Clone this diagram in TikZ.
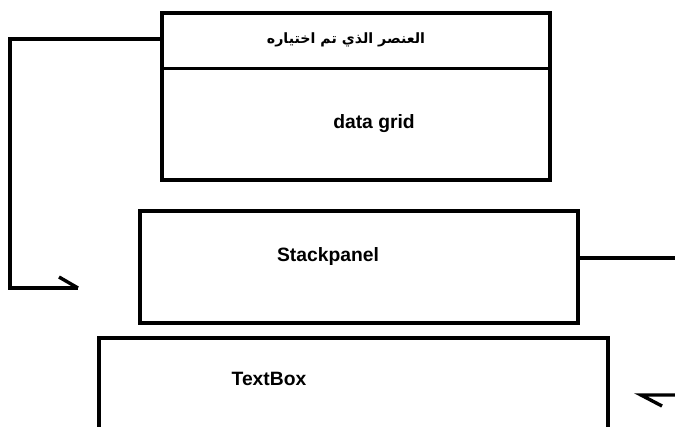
\documentclass[tikz,border=0pt]{standalone}
\usepackage{fontspec}
\setmainfont{Liberation Sans}
\newfontfamily\arabicfont[Script=Arabic]{DejaVu Sans}
\TeXXeTstate=1
\begin{document}
\begin{tikzpicture}[x=1bp,y=-1bp,
  box/.style={draw=black,line width=3.6bp,minimum width=#1,inner sep=0pt},
  conn/.style={draw=black,line width=3.4bp},
  lbl/.style={font=\bfseries\fontsize{19.3bp}{21bp}\selectfont,inner sep=0pt,anchor=base},
  arlbl/.style={font=\arabicfont\bfseries\fontsize{14.2bp}{17bp}\selectfont,inner sep=0pt,anchor=base}]
\clip (0,0) rectangle (675,426);
\fill[white] (0,0) rectangle (675,426);
% boxes
\node[box=388bp,minimum height=167bp] (grid) at (356,96.5) {};
\node[box=438bp,minimum height=112bp] (stack) at (359,267) {};
\node[box=509bp,minimum height=140bp] (tbox) at (353.5,408) {};
% divider
\coordinate (divl) at (162,68);
\coordinate (divr) at (552,68);
\draw[line width=3bp] (divl) -- (divr);
% labels
\node[arlbl] (sel) at (346,43.5) {\beginR العنصر الذي تم اختياره\endR};
\node[lbl] (dg) at (374,128) {data grid};
\node[lbl] (sp) at (328,261) {Stackpanel};
\node[lbl] (tb) at (269,385) {TextBox};
% left connector
\coordinate (lstart) at (162,39);
\coordinate (lc1) at (10,39);
\coordinate (lc2) at (10,288);
\coordinate (lend) at (78,288);
\draw[conn] (lstart) -- (lc1) -- (lc2) -- (lend);
\draw[conn] (lend) -- ++(-19,-11);
% right connector
\coordinate (rstart) at (578,258);
\coordinate (rend) at (676,258);
\draw[conn] (rstart) -- (rend);
% right arrow
\coordinate (ra) at (676,395);
\coordinate (rtip) at (641,395);
\draw[conn] (ra) -- (rtip) -- ++(21,11);
\end{tikzpicture}
\end{document}
